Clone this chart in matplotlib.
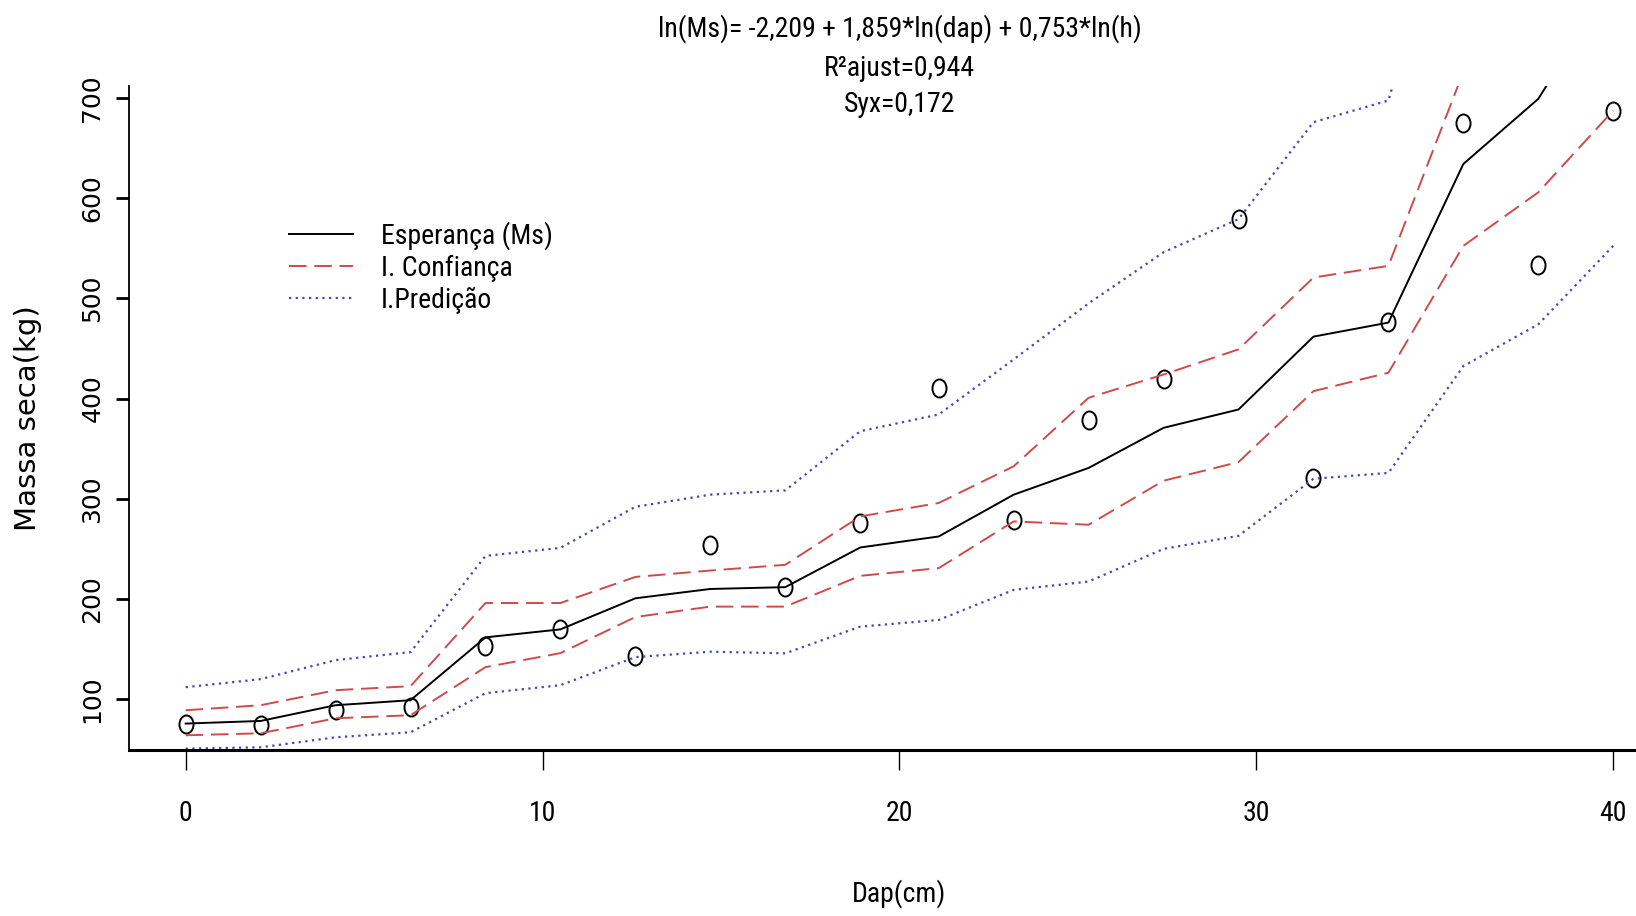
import numpy as np
import matplotlib
matplotlib.use("Agg")
import matplotlib.pyplot as plt
from matplotlib import font_manager
from matplotlib.path import Path

# Dap (cm) of the 20 trees and the observed / fitted dry mass (kg)
dap = [0, 2.1, 4.2, 6.3, 8.4, 10.5, 12.6, 14.7, 16.8, 18.9,
       21.1, 23.2, 25.3, 27.4, 29.5, 31.6, 33.7, 35.8, 37.9, 40]
ms_obs = [75.7, 74, 89, 92, 153, 170, 143, 254, 212, 276,
          411, 279, 379, 420, 579, 321, 476, 675, 533, 687]
ms_fit = [75.7, 78.3, 94, 99, 161.7, 169.7, 200.7, 210, 211.8, 251.4,
          262.4, 304.1, 330.8, 370.8, 389.1, 461.8, 475.8, 634.1, 699.1, 818]
conf_up = [89, 94, 109, 113, 196, 196, 222, 228.4, 234.1, 282.4,
           295.8, 332.4, 400.8, 424, 449.1, 520.8, 532.4, 726, 807, 974]
conf_low = [64, 66, 81, 84, 132, 146, 182, 192.4, 192.4, 223.1,
            230.8, 277.4, 274.1, 318, 336.6, 407.4, 425.8, 552.4, 605.8, 687.4]
pred_up = [112, 120, 139, 147, 243, 251, 292, 304.1, 308.4, 367.4,
           384.1, 439.1, 495, 546, 579.1, 675.8, 697.4, 950, 1031, 1212]
pred_low = [50.7, 52, 62, 67, 106, 114, 142, 147.4, 145.8, 172.4,
            179.1, 209.1, 217.4, 250, 263, 320, 325.8, 432.4, 474.1, 552.4]

title_lines = ["ln(Ms)= -2,209 + 1,859*ln(dap) + 0,753*ln(h)",
               "R²ajust=0,944",
               "Syx=0,172"]
legend_labels = ["Esperança (Ms)", "I. Confiança", "I.Predição"]

# the horizontal texts are narrow in the picture: look for a condensed face
fonts = font_manager.fontManager.ttflist
narrow = None
for name in ["Liberation Sans Narrow", "Roboto Condensed", "Open Sans Condensed",
             "Noto Sans Condensed", "DejaVu Sans Condensed"]:
    if any(f.name == name for f in fonts):
        narrow = {"family": name}
        break
if narrow is None:
    for f in fonts:
        if f.stretch in ("condensed", "semi-condensed") and f.style == "normal" \
                and f.weight in (400, "normal") and "Mono" not in f.name and "Serif" not in f.name:
            narrow = {"family": f.name, "stretch": f.stretch}
            break
if narrow is None:
    narrow = {"family": "DejaVu Sans"}
    nsize = 16
else:
    nsize = 20
wide = "DejaVu Sans"

fig = plt.figure(figsize=(16.36, 9.16), dpi=100)
ax = fig.add_axes([0.0786, 0.1814, 0.9424, 0.7243])

# open ellipse marker (the R circles look squeezed in the picture)
circ = Path.unit_circle()
ellipse = Path(circ.vertices * np.array([0.78, 1.0]), circ.codes)

red = "#cf4a4a"
blue = "#4646b0"

ax.plot(dap, ms_obs, linestyle="none", marker=ellipse, markersize=13,
        markerfacecolor="none", markeredgecolor="black", markeredgewidth=1.4)
l1, = ax.plot(dap, ms_fit, color="black", lw=1.4)
l2, = ax.plot(dap, conf_up, color=red, lw=1.4, dashes=(9, 4))
ax.plot(dap, conf_low, color=red, lw=1.4, dashes=(9, 4))
l3, = ax.plot(dap, pred_up, color=blue, lw=1.6, dashes=(1, 2))
ax.plot(dap, pred_low, color=blue, lw=1.6, dashes=(1, 2))

# R style ranges: 4% on each side of the data
ax.set_xlim(-1.6, 41.6)
ypad = 0.04 * (max(ms_obs) - min(ms_obs))
ax.set_ylim(min(ms_obs) - ypad, max(ms_obs) + ypad)

ax.set_xticks([0, 10, 20, 30, 40])
ax.set_yticks([100, 200, 300, 400, 500, 600, 700])
ax.spines["top"].set_visible(False)
ax.spines["right"].set_visible(False)
ax.spines["left"].set_linewidth(1.3)
ax.spines["bottom"].set_linewidth(2.2)
ax.tick_params(axis="x", length=14.4, width=1.0, pad=22, labelsize=nsize)
ax.tick_params(axis="y", length=9.4, width=2.0, pad=8, labelsize=18)
for lab in ax.get_xticklabels():
    lab.set_fontproperties(font_manager.FontProperties(size=nsize, **narrow))
for lab in ax.get_yticklabels():
    lab.set_fontfamily(wide)
    lab.set_rotation(90)
    lab.set_va("center")

fig.text(0.5498, 0.024, "Dap(cm)", ha="center", va="center",
         fontproperties=font_manager.FontProperties(size=nsize, **narrow))
fig.text(0.0171, 0.5437, "Massa seca(kg)", ha="center", va="center",
         rotation=90, fontsize=21, family=wide)

for txt, yy in zip(title_lines, [0.9683, 0.9247, 0.8854]):
    fig.text(0.5498, yy, txt, ha="center", va="center",
             fontproperties=font_manager.FontProperties(size=nsize, **narrow))

ax.legend([l1, l2, l3], legend_labels, loc="upper left",
          bbox_to_anchor=(289 / 1636, 1 - 221 / 916), bbox_transform=fig.transFigure,
          frameon=False, borderpad=0, borderaxespad=0, handlelength=2.3,
          handletextpad=1.0, labelspacing=0.17,
          prop=font_manager.FontProperties(size=nsize, **narrow))

fig.savefig("out.png", dpi=100)
